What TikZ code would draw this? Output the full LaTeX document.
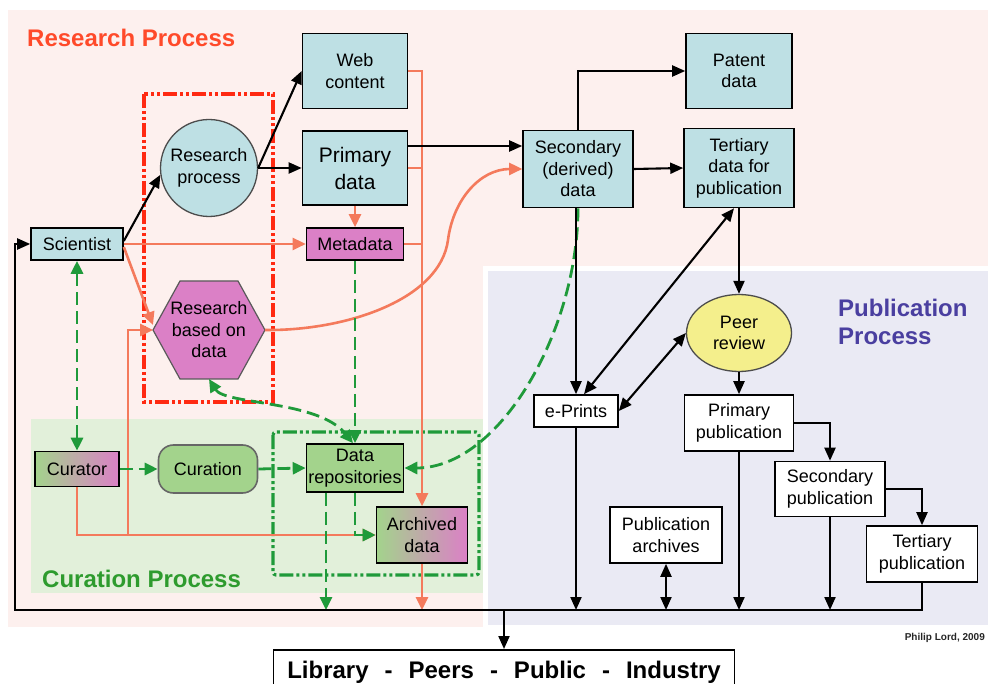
\documentclass[tikz,border=0pt]{standalone}
\usepackage{fontspec}
\setmainfont{Liberation Sans}
\usetikzlibrary{arrows.meta,shapes.geometric,calc}
\definecolor{lblue}{RGB}{190,224,228}
\definecolor{pinkf}{RGB}{219,128,198}
\definecolor{grnf}{RGB}{163,211,140}
\definecolor{yelf}{RGB}{244,239,140}
\definecolor{bgpink}{RGB}{253,240,238}
\definecolor{bglav}{RGB}{234,234,244}
\definecolor{bggrn}{RGB}{226,240,218}
\definecolor{salm}{RGB}{244,122,92}
\definecolor{grnl}{RGB}{31,154,58}
\definecolor{redr}{RGB}{255,42,18}
\definecolor{titred}{RGB}{255,74,42}
\definecolor{titgrn}{RGB}{46,155,46}
\definecolor{titblu}{RGB}{74,63,160}
\newcommand\myNF{\fontsize{18}{21.5}\selectfont}
\newcommand\myBigNF{\fontsize{21}{27}\selectfont}
\newcommand\myTitleF{\bfseries\fontsize{24}{28}\selectfont}
\tikzset{
  bx/.style={draw=black, line width=1.6pt, align=center, font=\myNF, inner sep=2pt},
  bluebox/.style={bx, fill=lblue},
  pinkbox/.style={bx, fill=pinkf},
  greenbox/.style={bx, fill=grnf},
  gradbox/.style={bx, left color=grnf, middle color=grnf!60!pinkf, right color=pinkf},
  whitebox/.style={bx, fill=white},
  blk/.style={line width=2.1pt, draw=black, -{Triangle[length=13pt,width=11pt]}},
  blkb/.style={line width=2.1pt, draw=black, {Triangle[length=13pt,width=11pt]}-{Triangle[length=13pt,width=11pt]}},
  sal/.style={line width=2.6pt, draw=salm, -{Triangle[length=13pt,width=12pt]}},
  saln/.style={line width=2.6pt, draw=salm},
  grd/.style={line width=2.8pt, draw=grnl, dash pattern=on 13pt off 6pt, -{Triangle[length=13pt,width=12pt]}},
  grdb/.style={line width=2.8pt, draw=grnl, dash pattern=on 13pt off 6pt, {Triangle[length=13pt,width=12pt]}-{Triangle[length=13pt,width=12pt]}},
  dashdot/.style={line width=3.2pt, dash pattern=on 14pt off 3pt on 3pt off 3pt on 3pt off 3pt}
}
\begin{document}
\begin{tikzpicture}[x=1pt,y=-1pt]
\path[use as bounding box] (0,0) rectangle (988,684);
\fill[white] (0,0) rectangle (988,684);
% backgrounds
\fill[bgpink] (8,10) rectangle (988,627);
\fill[white] (483,266) rectangle (988,627);
\fill[bglav] (488,271) rectangle (988,625);
\fill[bggrn] (31,419) rectangle (483,593);
% titles
\node[anchor=west, text=titred, font=\myTitleF, inner sep=0pt] (t1) at (27,38) {Research Process};
\node[anchor=west, text=titgrn, font=\myTitleF, inner sep=0pt] (t2) at (42,579) {Curation Process};
\node[anchor=west, text=titblu, font=\myTitleF, align=left, inner sep=0pt] (t3) at (838,322) {Publication\\Process};
% group frames
\draw[redr, dashdot] (144,94) rectangle (273,402);
\draw[grnl, dashdot, rounded corners=3pt] (273,432) rectangle (479,575);
% nodes
\node[bluebox, minimum width=92pt, minimum height=32pt] (sci) at (77,244) {Scientist};
\node[circle, draw=black!70, line width=1.3pt, fill=lblue, minimum size=97pt, inner sep=0pt, align=center, font=\myNF] (rp) at (209,168) {Research\\process};
\node[bluebox, minimum width=105pt, minimum height=75pt] (web) at (355,71) {Web\\content};
\node[bluebox, minimum width=105pt, minimum height=74pt, font=\myBigNF] (prim) at (355,168) {Primary\\data};
\node[pinkbox, minimum width=97pt, minimum height=32pt] (meta) at (355,244) {Metadata};
\filldraw[fill=pinkf, draw=black!65, line width=1.2pt] (153,330) -- (180,281) -- (238,281) -- (265,330) -- (238,379) -- (180,379) -- cycle;
\coordinate (hexL) at (153,330);
\coordinate (hexR) at (265,330);
\coordinate (hexB) at (209,379);
\node[align=center, font=\myNF, inner sep=0pt] (hex) at (209,330) {Research\\based on\\data};
\node[bluebox, minimum width=110pt, minimum height=77pt] (sec) at (578,169) {Secondary\\(derived)\\data};
\node[bluebox, minimum width=106pt, minimum height=75pt] (pat) at (739,71) {Patent\\data};
\node[bluebox, minimum width=110pt, minimum height=79pt] (tert) at (739,168) {Tertiary\\data for\\publication};
\node[ellipse, draw=black!70, line width=1.3pt, fill=yelf, minimum width=105pt, minimum height=77pt, inner sep=0pt, align=center, font=\myNF] (peer) at (739,333) {Peer\\review};
\node[whitebox, minimum width=84pt, minimum height=32pt] (eprint) at (576,411) {e-Prints};
\node[whitebox, minimum width=109pt, minimum height=56pt] (ppub) at (739,423) {Primary\\publication};
\node[whitebox, minimum width=110pt, minimum height=55pt] (spub) at (830,489) {Secondary\\publication};
\node[whitebox, minimum width=112pt, minimum height=56pt] (parch) at (666,535) {Publication\\archives};
\node[whitebox, minimum width=111pt, minimum height=56pt] (tpub) at (922,554) {Tertiary\\publication};
\node[gradbox, minimum width=84pt, minimum height=35pt] (cur) at (77,469) {Curator};
\node[bx, draw=black!60, fill=grnf, rounded corners=15pt, minimum width=99pt, minimum height=48pt] (cur2) at (208,469) {Curation};
\node[greenbox, minimum width=97pt, minimum height=48pt] (drep) at (355,468) {Data\\repositories};
\node[gradbox, minimum width=91pt, minimum height=56pt] (arch) at (422,535) {Archived\\data};
\node[draw=black, line width=1.6pt, anchor=north, minimum width=461pt, minimum height=44pt, inner sep=0pt, font=\bfseries\fontsize{24}{28}\selectfont] (lib) at (504,649) {Library\hspace{16pt}-\hspace{16pt}Peers\hspace{16pt}-\hspace{16pt}Public\hspace{16pt}-\hspace{16pt}Industry};
\node[anchor=east, inner sep=0pt, font=\bfseries\fontsize{10}{12}\selectfont, text=black!85] (credit) at (985,638) {Philip Lord, 2009};
\coordinate (busL) at (15,610);
\coordinate (busM) at (504,610);
% salmon connectors
\draw[sal] (sci.east) -- (meta.west);
\draw[sal] ([yshift=-3pt]sci.east) -- ([yshift=5pt]hexL);
\draw[sal] (prim.south) -- (meta.north);
\draw[sal] (web.east) -| (arch.north);
\draw[saln] (prim.east) -- (prim.east -| arch.north);
\draw[saln] (meta.east) -- (meta.east -| arch.north);
\draw[sal] (hexR) .. controls (345,331) and (440,300) .. (448,240) .. controls (453,200) and (480,169) .. (sec.west);
\draw[sal] (cur.south) |- (arch.west);
\coordinate (sj) at (128,535);
\draw[sal] (sj) |- (hexL);
\draw[sal] (arch.south) -- (arch.south |- busL);
% green dashed connectors
\draw[grdb] (sci.south) -- (sci.south |- cur.north);
\draw[grd] (cur.east) -- (cur2.west);
\draw[grd] (cur2.east) -- (drep.west);
\draw[grd] (meta.south) -- (drep.north);
\draw[grdb] (hexB) .. controls (225,405) and (318,400) .. ([xshift=-2pt]drep.north);
\draw[grd] (sec.south) .. controls (578,330) and (500,468) .. (drep.east);
\draw[grd] (drep.south) |- (arch.west);
\draw[grd] ([xshift=-29pt]drep.south) -- ([xshift=-29pt]drep.south |- busL);
% black connectors
\draw[blk] ([yshift=3pt]sci.east) -- (rp.188);
\draw[blk] (rp.east) -- (web.west);
\draw[blk] (rp.east) -- (prim.west);
\draw[blk] ([yshift=22pt]prim.east) -- ([yshift=22pt]prim.east -| sec.west);
\draw[blk] (sec.north) |- (pat.west);
\draw[blk] (sec.east) -- (tert.west);
\draw[blk] (tert.south) -- (peer.north);
\draw[blkb] ([xshift=-5pt]tert.south) -- ([xshift=8pt]eprint.north);
\draw[blk] (sec.south -| eprint.north) -- (eprint.north);
\draw[blkb] (peer.west) -- (eprint.east);
\draw[blk] (peer.south) -- (ppub.north);
\draw[blk] (ppub.east) -| (spub.north);
\draw[blk] (spub.east) -| (tpub.north);
\draw[blk] (tpub.south) |- (busL) |- (sci.west);
\draw[blk] (eprint.south) -- (eprint.south |- busL);
\draw[blkb] (parch.south) -- (parch.south |- busL);
\draw[blk] (ppub.south) -- (ppub.south |- busL);
\draw[blk] (spub.south) -- (spub.south |- busL);
\draw[blk] (busM) -- (lib.north);
\end{tikzpicture}
\end{document}
